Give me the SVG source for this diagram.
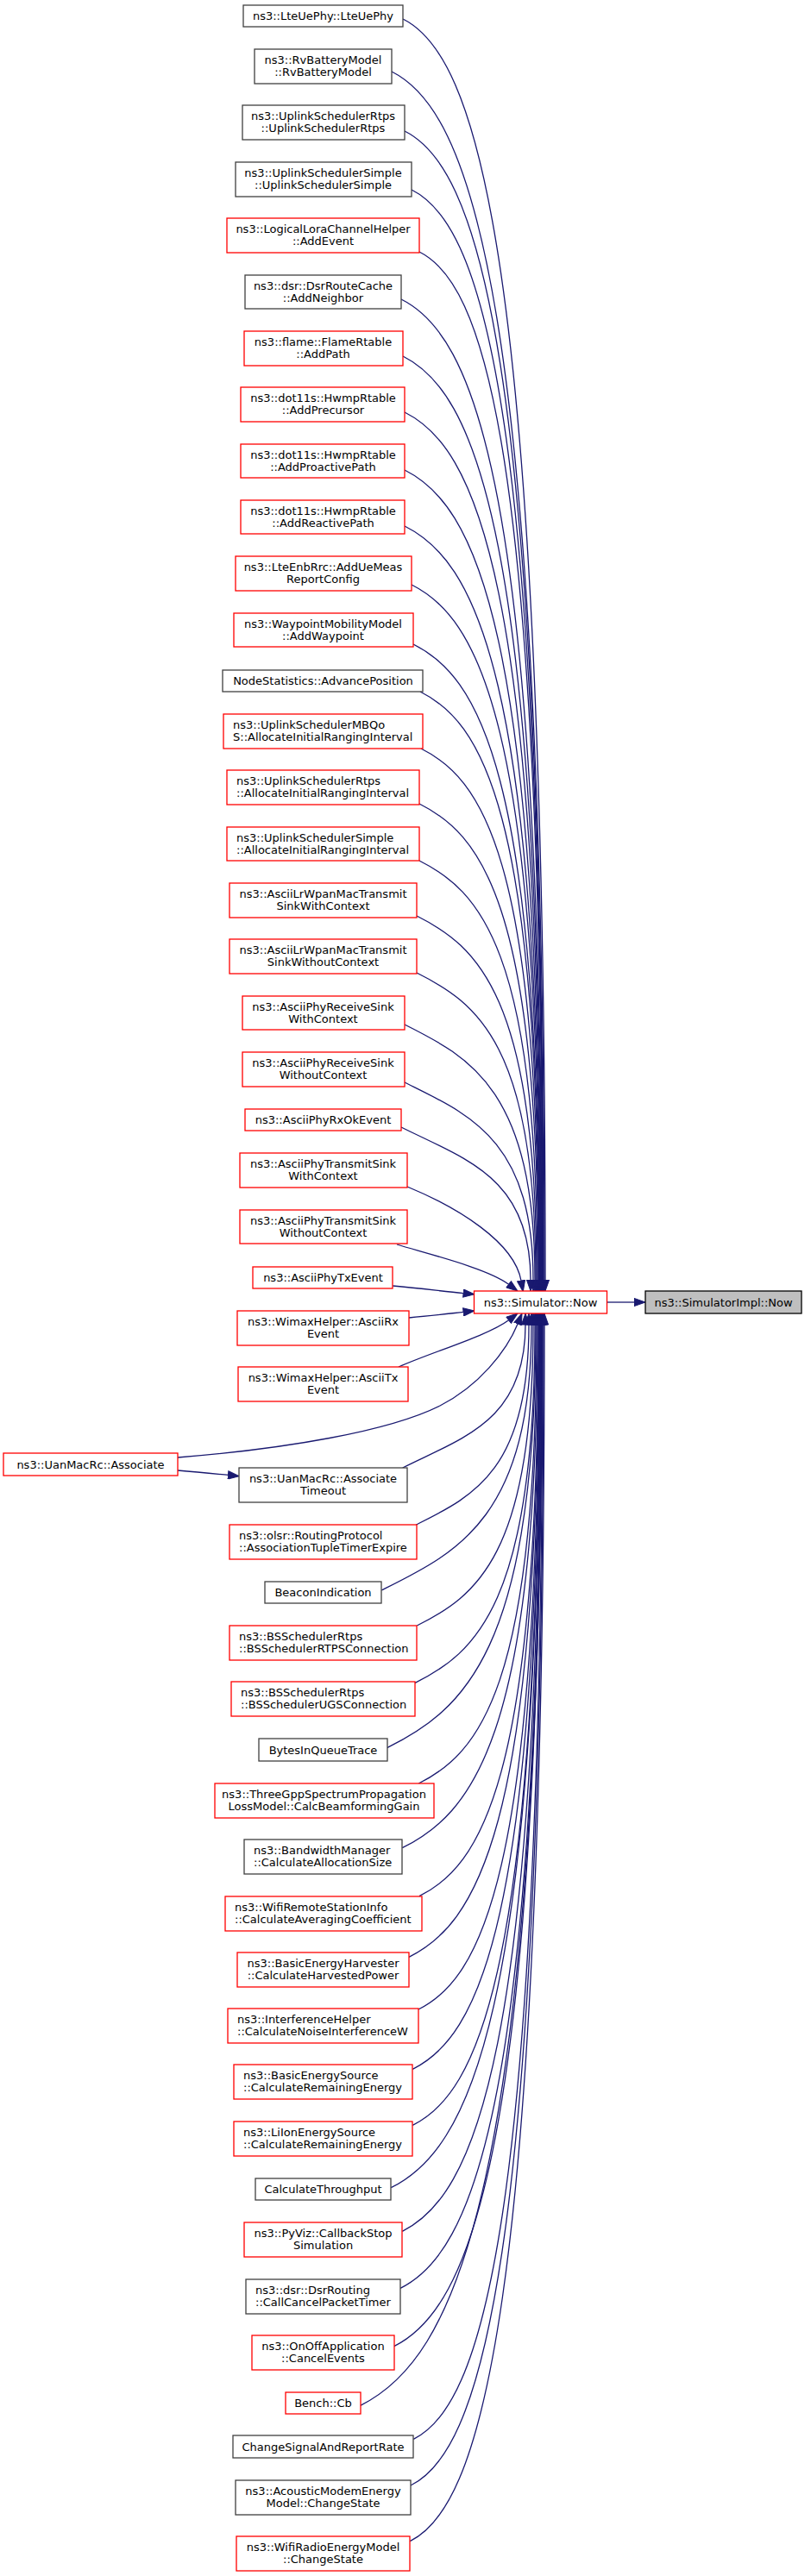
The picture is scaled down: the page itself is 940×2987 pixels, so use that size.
<svg xmlns="http://www.w3.org/2000/svg" width="940" height="2987" viewBox="0 0 940 2987">
<style>
.bg{fill:#ffffff}
.nb{fill:#ffffff;stroke:#404040;stroke-width:1.3}
.nr{fill:#ffffff;stroke:#ff0000;stroke-width:1.3}
.cur{fill:#bfbfbf;stroke:#000000;stroke-width:1.3}
text{font-family:"DejaVu Sans","Liberation Sans",sans-serif;font-size:13px;fill:#000000}
.c{text-anchor:middle}
.l{text-anchor:start}
.e path{fill:none;stroke:#191970;stroke-width:1.3;marker-end:url(#ah)}
</style>
<defs>
<marker id="ah" markerUnits="userSpaceOnUse" markerWidth="14" markerHeight="10" viewBox="0 0 13 10" refX="0" refY="5" orient="auto">
<path d="M0,0.4 L13,5 L0,9.6 z" fill="#191970" stroke="#191970" stroke-width="1"/>
</marker>
</defs>
<rect class="bg" x="0" y="0" width="940" height="2987"/>
<g id="edges" class="e">
<path d="M467,22 C549.5,63.3 632,276.4 632,1484"/>
<path d="M454,83 C542.5,127.3 631,330.8 631,1484"/>
<path d="M469,152 C549.5,192.3 630,386 630,1484"/>
<path d="M477,220 C553.3,258.1 629.5,442 629.5,1484"/>
<path d="M486,292 C557.5,327.8 629,501.2 629,1484"/>
<path d="M465,347 C546.8,387.9 628.5,552.3 628.5,1484"/>
<path d="M467,413 C547.5,453.3 628,607.9 628,1484"/>
<path d="M469,478 C548.3,517.6 627.5,662.6 627.5,1484"/>
<path d="M469,545 C548,584.5 627,719.4 627,1484"/>
<path d="M469,610 C547.8,649.4 626.5,774.6 626.5,1484"/>
<path d="M477,678 C551.5,715.3 626,830.6 626,1484"/>
<path d="M479,747 C552.3,783.6 625.5,888.7 625.5,1484"/>
<path d="M487,802 C556,836.5 625,933.6 625,1484"/>
<path d="M488,868 C556.3,902.1 624.5,989.4 624.5,1484"/>
<path d="M486,932 C555,966.5 624,1044.1 624,1484"/>
<path d="M486,998 C554.5,1032.3 623,1100 623,1484"/>
<path d="M483,1062 C552.5,1096.8 622,1154.8 622,1484"/>
<path d="M483,1128 C552,1162.5 621,1210.7 621,1484"/>
<path d="M469,1188 C544.5,1225.8 620,1264.5 620,1484"/>
<path d="M469,1255 C543.5,1292.3 618,1321 618,1484"/>
<path d="M465,1307 C540,1344.5 615,1365.4 615,1484"/>
<path d="M472,1376 C530,1400 596,1440 604,1485"/>
<path d="M460,1443 C500,1455 565.6,1471.2 589.6,1489.2"/>
<path d="M455.3,1491 C490,1494 510,1497 537.1,1499.6"/>
<path d="M474,1528 C500,1525.5 515,1523.8 537.1,1521.4"/>
<path d="M462,1585 C500,1568 565.6,1548.8 589.6,1530.8"/>
<path d="M206,1690 C330,1680 450,1660 510,1630 C555,1607 587,1567 600.1,1535"/>
<path d="M206,1705 C230,1707 245,1708.5 264.4,1710.4"/>
<path d="M466.7,1702 C537.9,1666.4 609,1646.8 609,1536"/>
<path d="M482.3,1768 C547.7,1735.3 613,1705.4 613,1536"/>
<path d="M442.3,1844 C529.2,1800.6 616,1760.9 616,1536"/>
<path d="M483.3,1885 C550.7,1851.3 618,1804 618,1536"/>
<path d="M480.7,1951.7 C550.4,1916.9 620,1859.8 620,1536"/>
<path d="M448.7,2026.7 C534.9,1983.6 621,1916.5 621,1536"/>
<path d="M485.3,2068 C553.7,2033.8 622,1959.1 622,1536"/>
<path d="M466.3,2142.7 C544.7,2103.5 623,2018.4 623,1536"/>
<path d="M486,2198.7 C555,2164.2 624,2070 624,1536"/>
<path d="M474,2269.3 C549.3,2231.7 624.5,2127.3 624.5,1536"/>
<path d="M485,2330 C555,2295 625,2181.2 625,1536"/>
<path d="M478.3,2399.3 C551.9,2362.5 625.5,2238.5 625.5,1536"/>
<path d="M478.3,2464.3 C552.2,2427.4 626,2293.7 626,1536"/>
<path d="M453.3,2536.7 C539.9,2493.4 626.5,2349.8 626.5,1536"/>
<path d="M466.3,2587.3 C546.7,2547.1 627,2395.4 627,1536"/>
<path d="M464,2653.3 C545.8,2612.4 627.5,2450.9 627.5,1536"/>
<path d="M456.7,2720.7 C542.4,2677.9 628,2506.6 628,1536"/>
<path d="M417.7,2789.3 C523.1,2736.6 628.5,2556.5 628.5,1536"/>
<path d="M479.3,2828.3 C554.2,2790.9 629,2602.7 629,1536"/>
<path d="M476,2882 C553,2843.5 630,2647.4 630,1536"/>
<path d="M475.3,2946.7 C553.2,2907.8 631,2702 631,1536"/>
<path d="M703.5,1510 L735,1510"/>
</g>
<g id="n1"><rect class="nb" x="282" y="6" width="185" height="25"/><text class="c" x="374.5" y="23">ns3::LteUePhy::LteUePhy</text></g>
<g id="n2"><rect class="nb" x="295" y="57" width="159" height="40"/><text class="c" x="374.5" y="73.5">ns3::RvBatteryModel</text><text class="c" x="374.5" y="88">::RvBatteryModel</text></g>
<g id="n3"><rect class="nb" x="281" y="122" width="188" height="40"/><text class="c" x="374.5" y="138.5">ns3::UplinkSchedulerRtps</text><text class="c" x="374.5" y="153">::UplinkSchedulerRtps</text></g>
<g id="n4"><rect class="nb" x="273" y="188" width="204" height="40"/><text class="c" x="374.5" y="204.5">ns3::UplinkSchedulerSimple</text><text class="c" x="374.5" y="219">::UplinkSchedulerSimple</text></g>
<g id="n5"><rect class="nr" x="263" y="253" width="223" height="40"/><text class="c" x="374.5" y="269.5">ns3::LogicalLoraChannelHelper</text><text class="c" x="374.5" y="284">::AddEvent</text></g>
<g id="n6"><rect class="nb" x="284" y="319" width="181" height="39"/><text class="c" x="374.5" y="335.5">ns3::dsr::DsrRouteCache</text><text class="c" x="374.5" y="350">::AddNeighbor</text></g>
<g id="n7"><rect class="nr" x="283" y="384" width="184" height="40"/><text class="c" x="374.5" y="400.5">ns3::flame::FlameRtable</text><text class="c" x="374.5" y="415">::AddPath</text></g>
<g id="n8"><rect class="nr" x="279" y="449" width="190" height="40"/><text class="c" x="374.5" y="465.5">ns3::dot11s::HwmpRtable</text><text class="c" x="374.5" y="480">::AddPrecursor</text></g>
<g id="n9"><rect class="nr" x="279" y="515" width="190" height="39"/><text class="c" x="374.5" y="531.5">ns3::dot11s::HwmpRtable</text><text class="c" x="374.5" y="546">::AddProactivePath</text></g>
<g id="n10"><rect class="nr" x="279" y="580" width="190" height="39"/><text class="c" x="374.5" y="596.5">ns3::dot11s::HwmpRtable</text><text class="c" x="374.5" y="611">::AddReactivePath</text></g>
<g id="n11"><rect class="nr" x="273" y="645" width="204" height="40"/><text class="c" x="374.5" y="661.5">ns3::LteEnbRrc::AddUeMeas</text><text class="c" x="374.5" y="676">ReportConfig</text></g>
<g id="n12"><rect class="nr" x="271" y="711" width="208" height="39"/><text class="c" x="374.5" y="727.5">ns3::WaypointMobilityModel</text><text class="c" x="374.5" y="742">::AddWaypoint</text></g>
<g id="n13"><rect class="nb" x="258" y="777" width="232" height="25"/><text class="c" x="374.5" y="794">NodeStatistics::AdvancePosition</text></g>
<g id="n14"><rect class="nr" x="259" y="828" width="231" height="40"/><text class="l" x="270" y="844.5">ns3::UplinkSchedulerMBQo</text><text class="l" x="270" y="859">S::AllocateInitialRangingInterval</text></g>
<g id="n15"><rect class="nr" x="263" y="893" width="223" height="40"/><text class="l" x="274" y="909.5">ns3::UplinkSchedulerRtps</text><text class="l" x="274" y="924">::AllocateInitialRangingInterval</text></g>
<g id="n16"><rect class="nr" x="263" y="959" width="223" height="39"/><text class="l" x="274" y="975.5">ns3::UplinkSchedulerSimple</text><text class="l" x="274" y="990">::AllocateInitialRangingInterval</text></g>
<g id="n17"><rect class="nr" x="266" y="1024" width="217" height="40"/><text class="c" x="374.5" y="1040.5">ns3::AsciiLrWpanMacTransmit</text><text class="c" x="374.5" y="1055">SinkWithContext</text></g>
<g id="n18"><rect class="nr" x="266" y="1089" width="217" height="40"/><text class="c" x="374.5" y="1105.5">ns3::AsciiLrWpanMacTransmit</text><text class="c" x="374.5" y="1120">SinkWithoutContext</text></g>
<g id="n19"><rect class="nr" x="281" y="1155" width="188" height="39"/><text class="c" x="374.5" y="1171.5">ns3::AsciiPhyReceiveSink</text><text class="c" x="374.5" y="1186">WithContext</text></g>
<g id="n20"><rect class="nr" x="281" y="1220" width="188" height="40"/><text class="c" x="374.5" y="1236.5">ns3::AsciiPhyReceiveSink</text><text class="c" x="374.5" y="1251">WithoutContext</text></g>
<g id="n21"><rect class="nr" x="284" y="1286" width="181" height="25"/><text class="c" x="374.5" y="1303">ns3::AsciiPhyRxOkEvent</text></g>
<g id="n22"><rect class="nr" x="278" y="1337" width="194" height="40"/><text class="c" x="374.5" y="1353.5">ns3::AsciiPhyTransmitSink</text><text class="c" x="374.5" y="1368">WithContext</text></g>
<g id="n23"><rect class="nr" x="278" y="1403" width="194" height="39"/><text class="c" x="374.5" y="1419.5">ns3::AsciiPhyTransmitSink</text><text class="c" x="374.5" y="1434">WithoutContext</text></g>
<g id="n24"><rect class="nr" x="293" y="1469" width="162" height="25"/><text class="c" x="374.5" y="1486">ns3::AsciiPhyTxEvent</text></g>
<g id="n25"><rect class="nr" x="275" y="1520" width="199" height="40"/><text class="c" x="374.5" y="1536.5">ns3::WimaxHelper::AsciiRx</text><text class="c" x="374.5" y="1551">Event</text></g>
<g id="n26"><rect class="nr" x="276" y="1585" width="197" height="40"/><text class="c" x="374.5" y="1601.5">ns3::WimaxHelper::AsciiTx</text><text class="c" x="374.5" y="1616">Event</text></g>
<g id="nA"><rect class="nr" x="4" y="1685" width="202" height="26"/><text class="c" x="105" y="1702.5">ns3::UanMacRc::Associate</text></g>
<g id="n27"><rect class="nb" x="277" y="1702" width="195" height="40"/><text class="c" x="374.5" y="1718.5">ns3::UanMacRc::Associate</text><text class="c" x="374.5" y="1733">Timeout</text></g>
<g id="n28"><rect class="nr" x="266" y="1768" width="217" height="40"/><text class="l" x="277" y="1784.5">ns3::olsr::RoutingProtocol</text><text class="l" x="277" y="1799">::AssociationTupleTimerExpire</text></g>
<g id="n29"><rect class="nb" x="307" y="1834" width="135" height="25"/><text class="c" x="374.5" y="1851">BeaconIndication</text></g>
<g id="n30"><rect class="nr" x="266" y="1885" width="217" height="40"/><text class="l" x="277" y="1901.5">ns3::BSSchedulerRtps</text><text class="l" x="277" y="1916">::BSSchedulerRTPSConnection</text></g>
<g id="n31"><rect class="nr" x="268" y="1950" width="213" height="40"/><text class="l" x="279" y="1966.5">ns3::BSSchedulerRtps</text><text class="l" x="279" y="1981">::BSSchedulerUGSConnection</text></g>
<g id="n32"><rect class="nb" x="300" y="2016" width="149" height="26"/><text class="c" x="374.5" y="2033.5">BytesInQueueTrace</text></g>
<g id="n33"><rect class="nr" x="249" y="2068" width="254" height="40"/><text class="c" x="375.5" y="2084.5">ns3::ThreeGppSpectrumPropagation</text><text class="c" x="375.5" y="2099">LossModel::CalcBeamformingGain</text></g>
<g id="n34"><rect class="nb" x="283" y="2133" width="183" height="40"/><text class="l" x="294" y="2149.5">ns3::BandwidthManager</text><text class="l" x="294" y="2164">::CalculateAllocationSize</text></g>
<g id="n35"><rect class="nr" x="261" y="2199" width="228" height="40"/><text class="l" x="272" y="2215.5">ns3::WifiRemoteStationInfo</text><text class="l" x="272" y="2230">::CalculateAveragingCoefficient</text></g>
<g id="n36"><rect class="nr" x="275" y="2264" width="199" height="40"/><text class="c" x="374.5" y="2280.5">ns3::BasicEnergyHarvester</text><text class="c" x="374.5" y="2295">::CalculateHarvestedPower</text></g>
<g id="n37"><rect class="nr" x="264" y="2329" width="221" height="40"/><text class="l" x="275" y="2345.5">ns3::InterferenceHelper</text><text class="l" x="275" y="2360">::CalculateNoiseInterferenceW</text></g>
<g id="n38"><rect class="nr" x="271" y="2394" width="207" height="40"/><text class="l" x="282" y="2410.5">ns3::BasicEnergySource</text><text class="l" x="282" y="2425">::CalculateRemainingEnergy</text></g>
<g id="n39"><rect class="nr" x="271" y="2460" width="207" height="40"/><text class="l" x="282" y="2476.5">ns3::LiIonEnergySource</text><text class="l" x="282" y="2491">::CalculateRemainingEnergy</text></g>
<g id="n40"><rect class="nb" x="296" y="2526" width="157" height="25"/><text class="c" x="374.5" y="2543">CalculateThroughput</text></g>
<g id="n41"><rect class="nr" x="283" y="2577" width="183" height="40"/><text class="c" x="374.5" y="2593.5">ns3::PyViz::CallbackStop</text><text class="c" x="374.5" y="2608">Simulation</text></g>
<g id="n42"><rect class="nb" x="285" y="2643" width="179" height="40"/><text class="l" x="296" y="2659.5">ns3::dsr::DsrRouting</text><text class="l" x="296" y="2674">::CallCancelPacketTimer</text></g>
<g id="n43"><rect class="nr" x="292" y="2708" width="165" height="40"/><text class="c" x="374.5" y="2724.5">ns3::OnOffApplication</text><text class="c" x="374.5" y="2739">::CancelEvents</text></g>
<g id="n44"><rect class="nr" x="331" y="2774" width="87" height="25"/><text class="c" x="374.5" y="2791">Bench::Cb</text></g>
<g id="n45"><rect class="nb" x="270" y="2824" width="209" height="26"/><text class="c" x="374.5" y="2841.5">ChangeSignalAndReportRate</text></g>
<g id="n46"><rect class="nb" x="273" y="2876" width="203" height="40"/><text class="c" x="374.5" y="2892.5">ns3::AcousticModemEnergy</text><text class="c" x="374.5" y="2907">Model::ChangeState</text></g>
<g id="n47"><rect class="nr" x="274" y="2941" width="201" height="40"/><text class="c" x="374.5" y="2957.5">ns3::WifiRadioEnergyModel</text><text class="c" x="374.5" y="2972">::ChangeState</text></g>
<g id="nSim"><rect class="nr" x="549.5" y="1497" width="154" height="26"/><text class="c" x="626.5" y="1514.5">ns3::Simulator::Now</text></g>
<g id="nImpl"><rect class="cur" x="748" y="1497" width="181" height="26"/><text class="c" x="838.5" y="1514.5">ns3::SimulatorImpl::Now</text></g>
</svg>
